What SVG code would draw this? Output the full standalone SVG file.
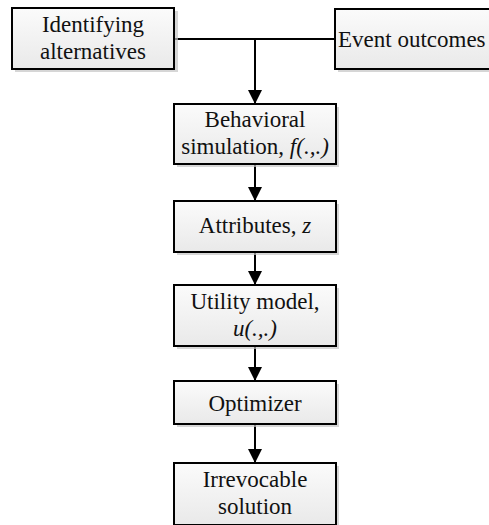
<svg xmlns="http://www.w3.org/2000/svg" width="489" height="525" viewBox="0 0 489 525">
  <defs>
    <linearGradient id="boxFill" x1="0" y1="0" x2="0" y2="1">
      <stop offset="0" stop-color="#fbfbfb"/>
      <stop offset="1" stop-color="#e9e9e9"/>
    </linearGradient>
    <marker id="arrow" viewBox="0 0 14 14" refX="14" refY="7" markerWidth="14" markerHeight="14" markerUnits="userSpaceOnUse" orient="auto">
      <path d="M0,0 L14,7 L0,14 Z" fill="#000"/>
    </marker>
  </defs>
  <style>
    .shadow { fill: #c4c4c4; opacity: 0.7; }
    .box { fill: url(#boxFill); stroke: #000; stroke-width: 2; }
    text { font-family: 'Liberation Serif', 'Times New Roman', Times, serif; font-size: 23px; fill: #111; }
    .mid { text-anchor: middle; }
    .it { font-style: italic; }
    .edge { fill: none; stroke: #000; stroke-width: 2; }
  </style>
  <rect width="489" height="525" fill="#fff"/>

  <g id="connectors">
    <path class="edge" d="M174,39 H335"/>
    <path class="edge" d="M255,39 V104" marker-end="url(#arrow)"/>
    <path class="edge" d="M255,164 V201" marker-end="url(#arrow)"/>
    <path class="edge" d="M255,252 V285" marker-end="url(#arrow)"/>
    <path class="edge" d="M255,346 V381" marker-end="url(#arrow)"/>
    <path class="edge" d="M255,424 V463" marker-end="url(#arrow)"/>
  </g>

  <g id="identifying-alternatives">
    <rect class="shadow" x="15" y="11" width="163" height="61"/>
    <rect class="box" x="12" y="8" width="162" height="61"/>
    <text class="mid" x="93" y="32" font-family="Liberation Serif, serif">Identifying</text>
    <text class="mid" x="93" y="59" font-family="Liberation Serif, serif">alternatives</text>
  </g>

  <g id="event-outcomes">
    <rect class="shadow" x="338" y="12" width="170" height="60"/>
    <rect class="box" x="335" y="9" width="170" height="60"/>
    <text x="338" y="47" font-family="Liberation Serif, serif">Event outcomes</text>
  </g>

  <g id="behavioral-simulation">
    <rect class="shadow" x="177" y="107" width="162" height="60"/>
    <rect class="box" x="174" y="104" width="162" height="60"/>
    <text class="mid" x="255" y="127" font-family="Liberation Serif, serif">Behavioral</text>
    <text class="mid" x="255" y="154" font-family="Liberation Serif, serif">simulation, <tspan class="it">f(.,.)</tspan></text>
  </g>

  <g id="attributes">
    <rect class="shadow" x="177" y="204" width="162" height="51"/>
    <rect class="box" x="174" y="201" width="162" height="51"/>
    <text class="mid" x="255" y="233" font-family="Liberation Serif, serif">Attributes, <tspan class="it">z</tspan></text>
  </g>

  <g id="utility-model">
    <rect class="shadow" x="177" y="288" width="162" height="61"/>
    <rect class="box" x="174" y="285" width="162" height="61"/>
    <text class="mid" x="255" y="309" font-family="Liberation Serif, serif">Utility model,</text>
    <text class="mid it" x="255" y="336" font-family="Liberation Serif, serif">u(.,.)</text>
  </g>

  <g id="optimizer">
    <rect class="shadow" x="177" y="384" width="162" height="43"/>
    <rect class="box" x="174" y="381" width="162" height="43"/>
    <text class="mid" x="255" y="411" font-family="Liberation Serif, serif">Optimizer</text>
  </g>

  <g id="irrevocable-solution">
    <rect class="shadow" x="177" y="466" width="162" height="62"/>
    <rect class="box" x="174" y="463" width="162" height="62"/>
    <text class="mid" x="255" y="487" font-family="Liberation Serif, serif">Irrevocable</text>
    <text class="mid" x="255" y="514" font-family="Liberation Serif, serif">solution</text>
  </g>
</svg>
